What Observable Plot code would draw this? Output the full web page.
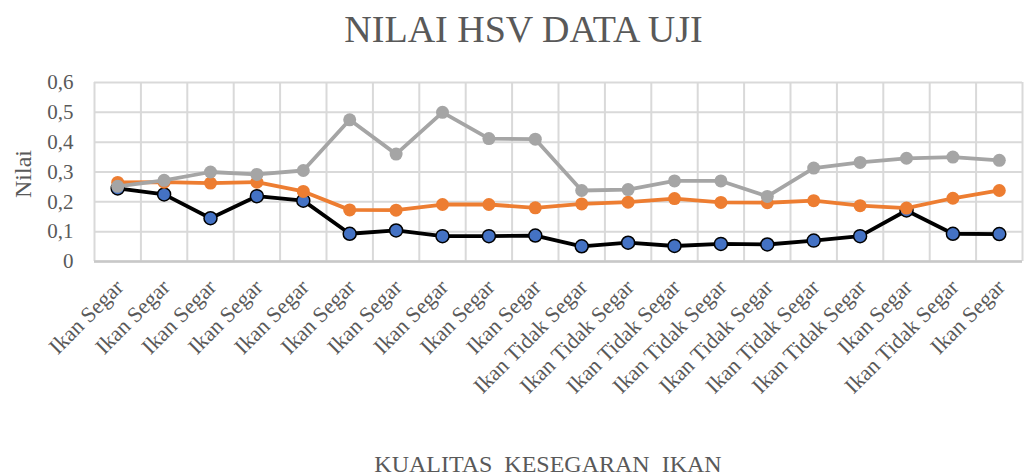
<!DOCTYPE html>
<html>
<head>
<meta charset="utf-8">
<script src="https://cdn.jsdelivr.net/npm/d3@7"></script>
<script src="https://cdn.jsdelivr.net/npm/@observablehq/plot@0.6"></script>
<style>
  html, body { margin: 0; padding: 0; background: #fff; }
  #wrap { position: relative; width: 1035px; height: 476px; font-family: "Liberation Serif", "Times New Roman", serif; color: #595959; }
  #title { position: absolute; left: 0; width: 1047px; top: 10px; text-align: center; font-size: 38px; line-height: 1; white-space: nowrap; }
  #xlabel { position: absolute; left: 0; width: 1096px; top: 452px; text-align: center; font-size: 24px; line-height: 1; white-space: pre; }
  #ylabel { position: absolute; left: 23px; top: 174px; font-size: 24px; line-height: 1; transform: translate(-50%, -50%) rotate(-90deg); white-space: nowrap; }
  svg { position: absolute; left: 0; top: 0; }
</style>
</head>
<body>
<div id="wrap">
  <div id="title">NILAI HSV DATA UJI</div>
  <div id="ylabel">Nilai</div>
  <div id="xlabel">KUALITAS  KESEGARAN  IKAN</div>
</div>
<script>
const categories = ["Ikan Segar","Ikan Segar","Ikan Segar","Ikan Segar","Ikan Segar","Ikan Segar","Ikan Segar","Ikan Segar","Ikan Segar","Ikan Segar","Ikan Tidak Segar","Ikan Tidak Segar","Ikan Tidak Segar","Ikan Tidak Segar","Ikan Tidak Segar","Ikan Tidak Segar","Ikan Tidak Segar","Ikan Segar","Ikan Tidak Segar","Ikan Segar"];
const seriesBlue   = [0.245,0.225,0.145,0.219,0.204,0.093,0.104,0.085,0.085,0.087,0.051,0.063,0.052,0.059,0.057,0.070,0.085,0.171,0.093,0.092];
const seriesOrange = [0.265,0.266,0.263,0.266,0.235,0.173,0.172,0.191,0.191,0.180,0.193,0.199,0.211,0.198,0.197,0.204,0.187,0.179,0.212,0.238];
const seriesGray   = [0.252,0.272,0.300,0.292,0.305,0.475,0.360,0.500,0.412,0.410,0.238,0.241,0.270,0.270,0.218,0.313,0.332,0.346,0.350,0.339];
const yTicks = [0, 0.1, 0.2, 0.3, 0.4, 0.5, 0.6];

const toRows = (vals) => vals.map((v, i) => ({x: i + 0.5, v}));
const blue = toRows(seriesBlue), orange = toRows(seriesOrange), gray = toRows(seriesGray);
const bounds = d3.range(categories.length + 1);
const centers = d3.range(categories.length).map(i => i + 0.5);

const fmt = d => d === 0 ? "0" : d.toFixed(1).replace(".", ",");

const chart = Plot.plot({
  width: 1035,
  height: 476,
  marginLeft: 94,
  marginRight: 13,
  marginTop: 82,
  marginBottom: 215,
  style: { fontFamily: "'Liberation Serif', 'Times New Roman', serif", color: "#595959", background: "transparent" },
  x: { type: "linear", domain: [0, categories.length] },
  y: { domain: [0, 0.6] },
  marks: [
    Plot.ruleY(yTicks, { stroke: "#d9d9d9", strokeWidth: 2 }),
    Plot.ruleX(bounds, { stroke: "#d9d9d9", strokeWidth: 2 }),
    Plot.ruleY([0], { stroke: "#c8c8c8", strokeWidth: 2.5 }),
    Plot.axisY({ ticks: yTicks, tickFormat: fmt, tickSize: 0, tickPadding: 21, fontSize: 21, label: null, fill: "#595959" }),
    Plot.axisX({ ticks: centers, tickFormat: d => categories[Math.round(d - 0.5)], tickSize: 0, tickPadding: 0, tickRotate: -45, fontSize: 22, label: null, fill: "#595959", dx: 2, dy: 22 }),
    Plot.line(blue, { x: "x", y: "v", stroke: "#000", strokeWidth: 3.8 }),
    Plot.dot(blue, { x: "x", y: "v", r: 6.5, fill: "#4472c4", stroke: "#000", strokeWidth: 1.5 }),
    Plot.line(orange, { x: "x", y: "v", stroke: "#ed7d31", strokeWidth: 3.8 }),
    Plot.dot(orange, { x: "x", y: "v", r: 6.5, fill: "#ed7d31" }),
    Plot.line(gray, { x: "x", y: "v", stroke: "#a5a5a5", strokeWidth: 3.8 }),
    Plot.dot(gray, { x: "x", y: "v", r: 6.5, fill: "#a5a5a5" })
  ]
});
document.getElementById("wrap").prepend(chart);
</script>
</body>
</html>
